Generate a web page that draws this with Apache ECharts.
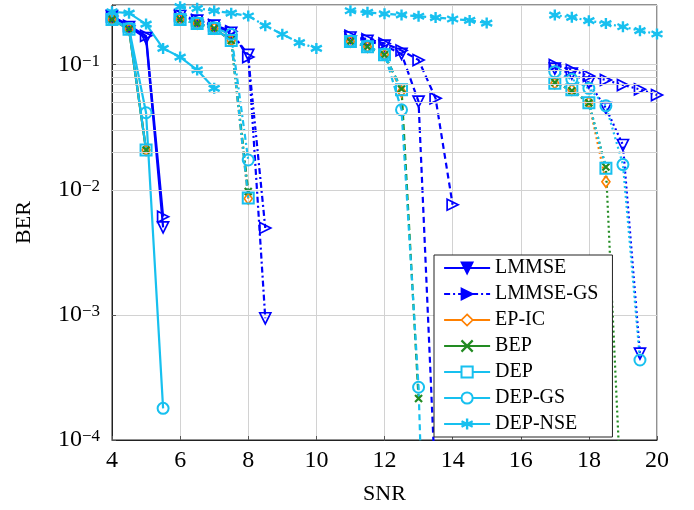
<!DOCTYPE html>
<html>
<head>
<meta charset="utf-8">
<script src="https://cdn.jsdelivr.net/npm/echarts@6/dist/echarts.min.js"></script>
<style>
  html, body { margin: 0; padding: 0; background: #fff; }
  #chart { width: 694px; height: 510px; }
</style>
</head>
<body>
<div id="chart"></div>
<script>
// SNR points for the four operating blocks
const snrA = [4, 4.5, 5, 5.5];
const snrB = [6, 6.5, 7, 7.5, 8, 8.5];
const snrC = [11, 11.5, 12, 12.5, 13, 13.5, 14];
const snrD = [17, 17.5, 18, 18.5, 19, 19.5, 20];
const snrNseA = [4, 4.5, 5, 5.5, 6, 6.5, 7];
const snrNseB = [6, 6.5, 7, 7.5, 8, 8.5, 9, 9.5, 10];
const snrNseC = [11, 11.5, 12, 12.5, 13, 13.5, 14, 14.5, 15];
const snrNseD = [17, 17.5, 18, 18.5, 19, 19.5, 20];

// BER per detector and block (null = no point)
const lmmseA = [0.245, 0.2, 0.163, 0.0050];
const lmmseB = [0.245, 0.225, 0.205, 0.18, 0.12, 0.00094];
const lmmseC = [0.165, 0.155, 0.142, 0.122, 0.0506, 0.00004, null];
const lmmseD = [0.093, 0.085, 0.072, 0.045, 0.0228, 0.00049, null];

const lmmseGsA = [0.245, 0.205, 0.17, 0.0061];
const lmmseGsB = [0.248, 0.228, 0.208, 0.185, 0.115, 0.00495];
const lmmseGsC = [0.17, 0.16, 0.148, 0.13, 0.109, 0.0538, 0.0076];
const lmmseGsD = [0.0995, 0.0908, 0.0813, 0.0755, 0.0688, 0.0635, 0.0572];

const epIcA = [0.23, 0.192, 0.0208, null];
const epIcB = [0.23, 0.213, 0.195, 0.156, 0.0085, null];
const epIcC = [0.153, 0.139, 0.12, 0.061, null, null, null];
const epIcD = [0.071, 0.063, 0.05, 0.0116, null, null, null];

const bepA = [0.23, 0.192, 0.0208, null];
const bepB = [0.23, 0.213, 0.195, 0.156, 0.0097, null];
const bepC = [0.153, 0.139, 0.12, 0.064, 0.000215, null, null];
const bepD = [0.072, 0.062, 0.0495, 0.0152, 0.000017, null, null];

const depA = [0.23, 0.192, 0.0208, null];
const depB = [0.23, 0.213, 0.195, 0.156, 0.0086, null];
const depC = [0.153, 0.139, 0.12, 0.063, null, null, null];
const depD = [0.071, 0.063, 0.0497, 0.0149, null, null, null];

const depGsA = [0.232, 0.195, 0.0413, 0.000179];
const depGsB = [0.232, 0.215, 0.197, 0.175, 0.0173, null];
const depGsC = [0.155, 0.141, 0.122, 0.0436, 0.000264, 0.00000001, null];
const depGsD = [0.0879, 0.0764, 0.0647, 0.0469, 0.0159, 0.000436, null];

const depNseA = [0.265, 0.258, 0.211, 0.135, 0.115, 0.0908, 0.0647];
const depNseB = [0.291, 0.282, 0.27, 0.258, 0.245, 0.205, 0.175, 0.15, 0.135];
const depNseC = [0.27, 0.262, 0.255, 0.25, 0.244, 0.238, 0.232, 0.226, 0.215];
const depNseD = [0.249, 0.239, 0.225, 0.213, 0.201, 0.187, 0.176];

const xTicks = [4, 6, 8, 10, 12, 14, 16, 18, 20];

// ---- styling ----
const FONT = '"Liberation Serif", "DejaVu Serif", serif';
const BLUE = '#0000ff', ORANGE = '#ff8000', GREEN = '#228b22', CYAN = '#17c0ef';
const CLEAR = 'rgba(0,0,0,0)';

const SYM = {
  down: 'path://M0,0 L10,0 L5,9 Z',
  right: 'path://M0,0 L9,5 L0,10 Z',
  cross: 'path://M0,0 L10,10 M10,0 L0,10',
  star: 'path://M5,0 L5,10 M0.67,2.5 L9.33,7.5 M0.67,7.5 L9.33,2.5'
};

const detectors = [
  { name: 'LMMSE', color: BLUE, symbol: SYM.down, size: 11, fill: CLEAR, bw: 1.7,
    blocks: [[snrA, lmmseA], [snrB, lmmseB], [snrC, lmmseC], [snrD, lmmseD]] },
  { name: 'LMMSE-GS', color: BLUE, symbol: SYM.right, size: 11, fill: CLEAR, bw: 1.7,
    blocks: [[snrA, lmmseGsA], [snrB, lmmseGsB], [snrC, lmmseGsC], [snrD, lmmseGsD]] },
  { name: 'EP-IC', color: ORANGE, symbol: 'diamond', size: [8, 11], fill: CLEAR, bw: 1.7,
    blocks: [[snrA, epIcA], [snrB, epIcB], [snrC, epIcC], [snrD, epIcD]] },
  { name: 'BEP', color: GREEN, symbol: SYM.cross, size: 7, fill: CLEAR, bw: 2.2,
    blocks: [[snrA, bepA], [snrB, bepB], [snrC, bepC], [snrD, bepD]] },
  { name: 'DEP', color: CYAN, symbol: 'rect', size: 11, fill: CLEAR, bw: 2,
    blocks: [[snrA, depA], [snrB, depB], [snrC, depC], [snrD, depD]] },
  { name: 'DEP-GS', color: CYAN, symbol: 'circle', size: 11, fill: CLEAR, bw: 2,
    blocks: [[snrA, depGsA], [snrB, depGsB], [snrC, depGsC], [snrD, depGsD]] },
  { name: 'DEP-NSE', color: CYAN, symbol: SYM.star, size: 11, fill: CLEAR, bw: 2.4,
    blocks: [[snrNseA, depNseA], [snrNseB, depNseB], [snrNseC, depNseC], [snrNseD, depNseD]] }
];

// line pattern per block: solid, dash-dot, dashed, dotted
const blockDash = ['solid', [6, 3, 2, 3], [6, 4], [2, 3]];

function pairs(xs, ys) {
  const out = [];
  xs.forEach((x, i) => { if (ys[i] != null) out.push([x, ys[i]]); });
  return out;
}

const series = [];

// light minor grid at 2..9 x 10^k
const minorValues = [];
for (let k = -4; k <= -2; k++) {
  for (let m = 2; m <= 9; m++) minorValues.push(m * Math.pow(10, k));
}
series.push({
  type: 'line', data: [], silent: true, z: 1,
  markLine: {
    silent: true, symbol: ['none', 'none'], label: { show: false },
    lineStyle: { color: '#d2d2d2', width: 1, type: 'solid' },
    animation: false,
    data: minorValues.map(v => ({ yAxis: v }))
  }
});

for (let b = 0; b < 4; b++) {
  detectors.forEach(d => {
    const [xs, ys] = d.blocks[b];
    series.push({
      name: d.name,
      type: 'line',
      data: pairs(xs, ys),
      symbol: d.symbol,
      symbolSize: d.size,
      showAllSymbol: true,
      z: 3,
      lineStyle: { color: d.color, width: 2.2, type: blockDash[b] },
      itemStyle: { color: d.fill, borderColor: d.color, borderWidth: d.bw },
      emphasis: { disabled: true }
    });
  });
}

const legendData = detectors.map(d => {
  const filled = d.name === 'LMMSE' || d.name === 'LMMSE-GS' || d.name === 'DEP-NSE';
  return {
    name: d.name,
    itemStyle: { color: filled ? d.color : '#fff', borderColor: d.color, borderWidth: d.bw },
    lineStyle: { color: d.color, width: 2.2, type: d.name === 'LMMSE-GS' ? blockDash[1] : 'solid' }
  };
});

const chart = echarts.init(document.getElementById('chart'), null, { renderer: 'canvas' });
chart.setOption({
  animation: false,
  backgroundColor: '#fff',
  grid: { left: 112, right: 37, top: 5, bottom: 70, show: true, borderColor: '#222', borderWidth: 1, backgroundColor: 'transparent' },
  xAxis: {
    type: 'value', min: xTicks[0], max: xTicks[xTicks.length - 1], interval: 2,
    name: 'SNR', nameLocation: 'middle', nameGap: 43,
    nameTextStyle: { fontFamily: FONT, fontSize: 22, color: '#000' },
    axisLine: { show: true, onZero: false, lineStyle: { color: '#222', width: 1 } },
    axisTick: { show: true, inside: true, length: 4, lineStyle: { color: '#555' } },
    axisLabel: { fontFamily: FONT, fontSize: 24, color: '#000', margin: 9 },
    splitLine: { show: true, lineStyle: { color: '#d2d2d2', width: 1 } }
  },
  yAxis: {
    type: 'log', logBase: 10, min: 1e-4, max: 0.3,
    name: 'BER', nameLocation: 'middle', nameGap: 77,
    nameTextStyle: { fontFamily: FONT, fontSize: 22, color: '#000' },
    axisLine: { show: true, lineStyle: { color: '#222', width: 1 } },
    axisTick: { show: true, inside: true, length: 4, lineStyle: { color: '#555' } },
    axisLabel: {
      margin: 12,
      formatter: function (v) {
        const e = Math.round(Math.log10(v));
        if (Math.abs(v - Math.pow(10, e)) / v > 1e-6) return '';
        return '{b|10}{s|\u2212' + (-e) + '}';
      },
      rich: {
        b: { fontFamily: FONT, fontSize: 24, lineHeight: 24, color: '#000', verticalAlign: 'bottom' },
        s: { fontFamily: FONT, fontSize: 17, lineHeight: 17, color: '#000', verticalAlign: 'top', padding: [0, 0, 10, 0] }
      }
    },
    splitLine: { show: true, lineStyle: { color: '#d2d2d2', width: 1 } }
  },
  legend: {
    data: legendData,
    orient: 'vertical', left: 434, top: 255,
    padding: [3, 14, 3, 9], itemGap: 6, itemWidth: 46, itemHeight: 14,
    backgroundColor: '#fff', borderColor: '#222', borderWidth: 1,
    textStyle: { fontFamily: FONT, fontSize: 20, lineHeight: 20, color: '#000' },
    selectedMode: false
  },
  series: series
});
</script>
</body>
</html>
